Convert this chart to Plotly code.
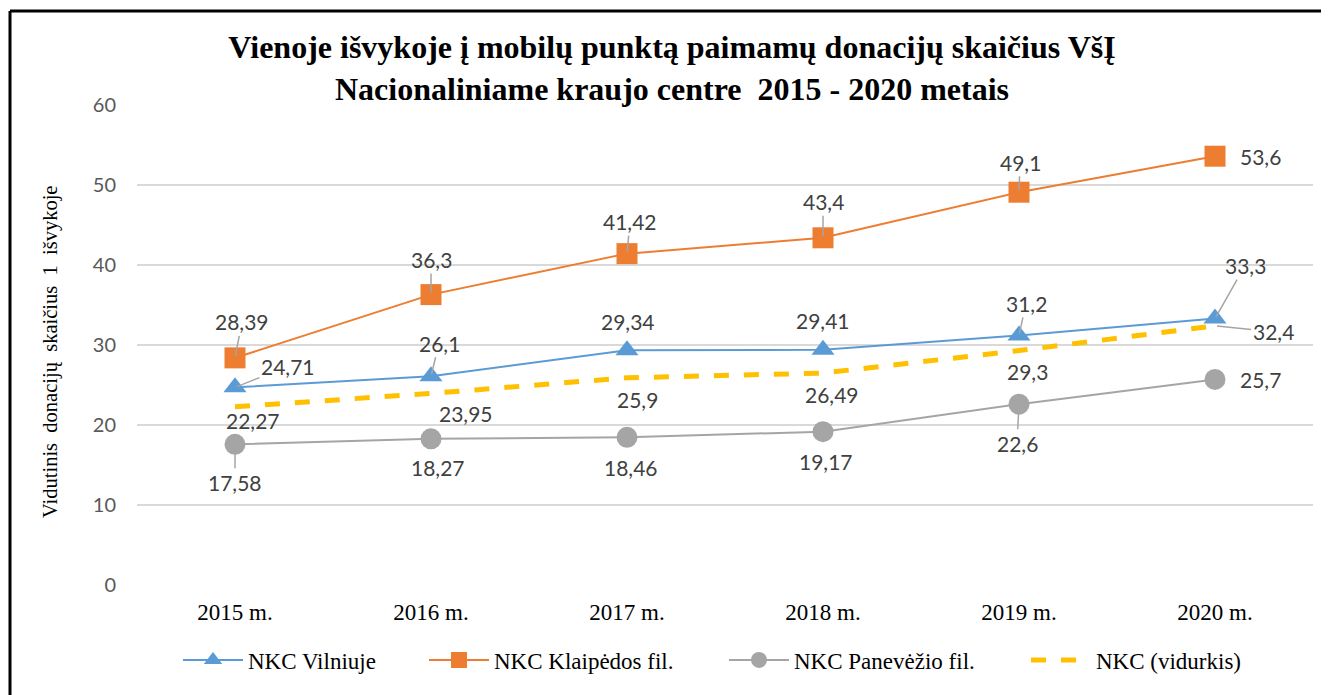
import plotly.graph_objects as go

# ---- data ----
years = ["2015 m.", "2016 m.", "2017 m.", "2018 m.", "2019 m.", "2020 m."]
vilnius = [24.71, 26.1, 29.34, 29.41, 31.2, 33.3]
klaipeda = [28.39, 36.3, 41.42, 43.4, 49.1, 53.6]
panevezys = [17.58, 18.27, 18.46, 19.17, 22.6, 25.7]
average = [22.27, 23.95, 25.9, 26.49, 29.3, 32.4]

names = ["NKC Vilniuje", "NKC Klaipėdos fil.", "NKC Panevėžio fil.", "NKC (vidurkis)"]
y_ticks = [0, 10, 20, 30, 40, 50, 60]

title_text = ("Vienoje išvykoje į mobilų punktą paimamų donacijų skaičius VšĮ<br>"
              "Nacionaliniame kraujo centre  2015 - 2020 metais")
y_title = "Vidutinis  donacijų  skaičius  1  išvykoje"

# ---- label placement (pixel offsets of label from point; leader shown?) ----
label_offsets = {
    "vilnius":   [(53, -21, True), (8, -33, True), (1, -29, False), (0, -29, False), (7, -32, True), (30, -53, True)],
    "klaipeda":  [(7, -36, True), (0, -35, True), (3, -32, True), (0, -36, True), (1, -30, True), (45, 0, False)],
    "panevezys": [(0, 38, True), (7, 29, False), (4, 30, False), (3, 30, False), (-2, 39, True), (45, 0, False)],
    "average":   [(18, 14, False), (35, 20, False), (10, 22, False), (9, 21, False), (8, 21, False), (58, 6, True)],
}

# legend entry left edges (page px)
legend_left = [182, 428, 728, 1030]

colors = {"vilnius": "#5B9BD5", "klaipeda": "#ED7D31", "panevezys": "#A5A5A5", "average": "#FFC000"}

# page has an 8px body margin; layout below is expressed in page pixels
PAGE_W, PAGE_H, OFF = 1329, 695, 8
PLOT_L, PLOT_R, PLOT_T, PLOT_B = 137, 1313, 105, 585
FIG_W, FIG_H = PAGE_W - OFF, PAGE_H - OFF


def px_to_paper_x(px):
    return (px - PLOT_L) / (PLOT_R - PLOT_L)


def px_to_paper_y(py):
    return (PLOT_B - py) / (PLOT_B - PLOT_T)


SERIF = "Liberation Serif, Times New Roman, serif"
SANS = "Lato, Open Sans, sans-serif"
legend_ids = ["legend", "legend2", "legend3", "legend4"]

fig = go.Figure()
fig.add_trace(go.Scatter(x=years, y=vilnius, name=names[0], mode="lines+markers", legend=legend_ids[0],
                         line=dict(color=colors["vilnius"], width=2),
                         marker=dict(symbol="triangle-up", size=20, color=colors["vilnius"])))
fig.add_trace(go.Scatter(x=years, y=klaipeda, name=names[1], mode="lines+markers", legend=legend_ids[1],
                         line=dict(color=colors["klaipeda"], width=2),
                         marker=dict(symbol="square", size=21, color=colors["klaipeda"])))
fig.add_trace(go.Scatter(x=years, y=panevezys, name=names[2], mode="lines+markers", legend=legend_ids[2],
                         line=dict(color=colors["panevezys"], width=2),
                         marker=dict(symbol="circle", size=21, color=colors["panevezys"])))
fig.add_trace(go.Scatter(x=years, y=average, name=names[3], mode="lines", legend=legend_ids[3],
                         line=dict(color=colors["average"], width=5, dash="dash")))

series = {"vilnius": vilnius, "klaipeda": klaipeda, "panevezys": panevezys, "average": average}
annotations = []
for key, vals in series.items():
    for xv, yv, (ax, ay, leader) in zip(years, vals, label_offsets[key]):
        txt = f"{yv:g}".replace(".", ",")
        annotations.append(dict(
            x=xv, y=yv, xref="x", yref="y", text=txt,
            showarrow=True, ax=ax, ay=ay, axref="pixel", ayref="pixel",
            arrowhead=0, arrowwidth=1.5,
            arrowcolor="#A5A5A5" if leader else "rgba(0,0,0,0)",
            standoff=2, startstandoff=0,
            font=dict(family=SANS, size=21, color="#404040"),
            xanchor="center", yanchor="middle"))

# y-axis title
annotations.append(dict(text=y_title, xref="paper", yref="paper", x=px_to_paper_x(50), y=px_to_paper_y(352),
                        showarrow=False, textangle=-90, xanchor="center", yanchor="middle",
                        font=dict(family=SERIF, size=20.5, color="#000000")))

frame_x = px_to_paper_x(10)
frame_top = px_to_paper_y(11)

legend_layout = {}
for lid, left in zip(legend_ids, legend_left):
    legend_layout[lid] = dict(orientation="h", x=px_to_paper_x(left - 4), xanchor="left",
                              y=px_to_paper_y(660), yanchor="middle", bgcolor="rgba(0,0,0,0)",
                              font=dict(family=SERIF, size=23, color="#000000"),
                              itemwidth=60)

fig.update_layout(
    width=FIG_W, height=FIG_H,
    margin=dict(l=PLOT_L - OFF, r=FIG_W - (PLOT_R - OFF), t=PLOT_T - OFF, b=FIG_H - (PLOT_B - OFF)),
    paper_bgcolor="white", plot_bgcolor="white",
    title=dict(text=title_text, x=(672 - OFF) / FIG_W, xanchor="center",
               y=(PAGE_H - 58) / FIG_H, yanchor="middle", yref="container",
               font=dict(family=SERIF, size=32, color="#000000", weight="bold")),
    xaxis=dict(range=[-0.5, 5.5], showgrid=False, zeroline=False, showline=False,
               ticks="outside", ticklen=6, tickcolor="rgba(0,0,0,0)",
               tickfont=dict(family=SERIF, size=23, color="#000000")),
    yaxis=dict(range=[0, 60], tickvals=y_ticks, showgrid=True, gridcolor="#D9D9D9", gridwidth=1.5,
               zeroline=False, showline=False, ticks="outside", ticklen=16, tickcolor="rgba(0,0,0,0)",
               tickfont=dict(family=SANS, size=20, color="#595959")),
    annotations=annotations,
    showlegend=True,
    shapes=[
        dict(type="line", xref="paper", yref="paper", x0=frame_x, x1=px_to_paper_x(PAGE_W - 2),
             y0=frame_top, y1=frame_top, line=dict(color="black", width=3)),
        dict(type="line", xref="paper", yref="paper", x0=frame_x, x1=frame_x,
             y0=frame_top, y1=px_to_paper_y(PAGE_H), line=dict(color="black", width=3)),
    ],
    **legend_layout,
)

fig.write_html("out.html", config={"displayModeBar": False})
